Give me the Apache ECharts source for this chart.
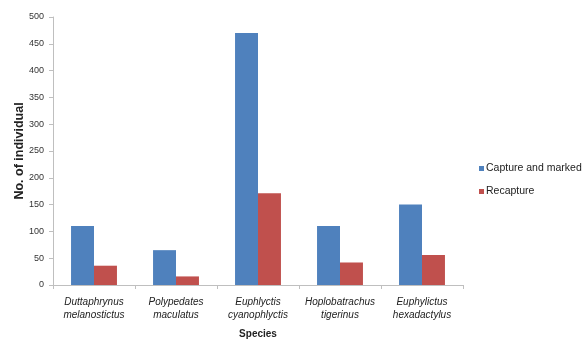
<!DOCTYPE html>
<html>
<head>
<meta charset="utf-8">
<script src="https://cdn.jsdelivr.net/npm/echarts@6/dist/echarts.min.js"></script>
<style>
  html, body { margin: 0; padding: 0; background: #fff; }
  #chart { width: 584px; height: 339px; }
</style>
</head>
<body>
<div id="chart"></div>
<script>
// Frog species counted in the mark–recapture survey
const species = [
  'Duttaphrynus\nmelanostictus',
  'Polypedates\nmaculatus',
  'Euphlyctis\ncyanophlyctis',
  'Hoplobatrachus\ntigerinus',
  'Euphylictus\nhexadactylus'
];
const capturedMarked = [110, 65, 470, 110, 150];
const recaptured = [36, 16, 171, 42, 56];
const yTicks = [0, 50, 100, 150, 200, 250, 300, 350, 400, 450, 500];

const font = 'Liberation Sans, Arial, sans-serif';
const chart = echarts.init(document.getElementById('chart'), null, { renderer: 'canvas' });

chart.setOption({
  animation: false,
  grid: { left: 53, right: 121, top: 17, bottom: 54, containLabel: false, outerBoundsMode: 'none' },
  legend: {
    orient: 'vertical',
    left: 474,
    top: 158,
    itemWidth: 5,
    itemHeight: 5,
    itemGap: 12,
    icon: 'rect',
    textStyle: { fontFamily: font, fontSize: 10.5, color: '#222', padding: [0, 0, 0, -3] },
    data: ['Capture and marked', 'Recapture']
  },
  xAxis: {
    type: 'category',
    data: species,
    name: 'Species',
    nameLocation: 'middle',
    nameGap: 44,
    nameTextStyle: { fontFamily: font, fontSize: 10, fontWeight: 'bold', color: '#222' },
    axisLine: { lineStyle: { color: '#bfbfbf' } },
    axisTick: { show: true, length: 4, lineStyle: { color: '#bfbfbf' } },
    axisLabel: {
      interval: 0,
      margin: 11,
      fontFamily: font,
      fontSize: 10,
      fontStyle: 'italic',
      color: '#222',
      lineHeight: 13
    }
  },
  yAxis: {
    type: 'value',
    min: yTicks[0],
    max: yTicks[yTicks.length - 1],
    interval: yTicks[1] - yTicks[0],
    name: 'No. of individual',
    nameLocation: 'middle',
    nameGap: 27,
    nameMoveOverlap: false,
    nameTextStyle: { fontFamily: font, fontSize: 12.5, fontWeight: 'bold', color: '#222' },
    axisLine: { show: true, lineStyle: { color: '#bfbfbf' } },
    axisTick: { show: true, length: 4, lineStyle: { color: '#bfbfbf' } },
    splitLine: { show: false },
    axisLabel: { fontFamily: font, fontSize: 9, color: '#333', margin: 9 }
  },
  series: [
    {
      name: 'Capture and marked',
      type: 'bar',
      data: capturedMarked,
      itemStyle: { color: '#4f81bd' },
      barGap: '0%',
      barCategoryGap: '44%'
    },
    {
      name: 'Recapture',
      type: 'bar',
      data: recaptured,
      itemStyle: { color: '#c0504d' }
    }
  ]
});
</script>
</body>
</html>
